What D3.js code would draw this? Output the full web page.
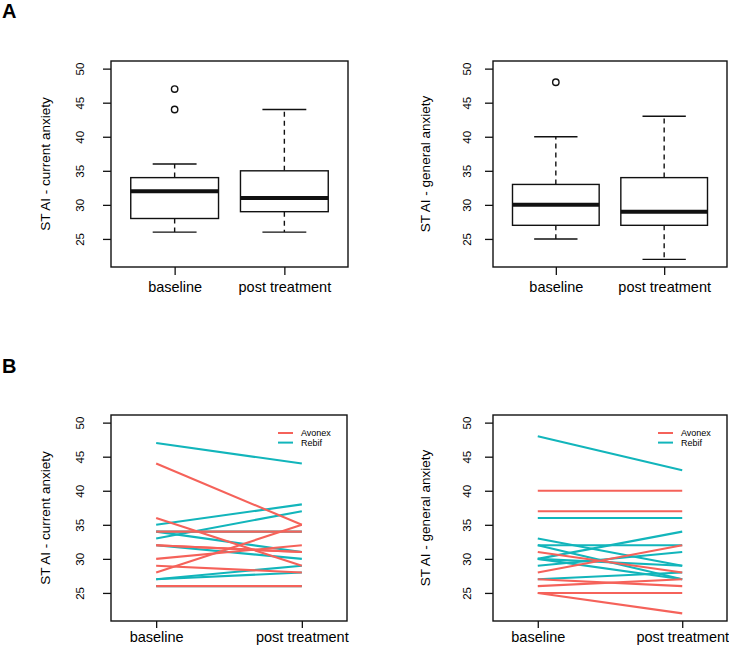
<!DOCTYPE html>
<html><head><meta charset="utf-8">
<script src="https://cdn.jsdelivr.net/npm/d3@7"></script>
<style>
html,body{margin:0;padding:0;background:#fff;}
svg{display:block;font-family:"Liberation Sans",Arial,sans-serif;}
</style></head>
<body><svg id="chart" width="729" height="646"></svg>
<script>
// ---- data ----
const timepoints = ["baseline", "post treatment"];
const groups = ["Avonex", "Rebif"];
const groupColors = ["#F5625A", "#12B5BB"];
const yTicks = [25, 30, 35, 40, 45, 50];
const yTitles = ["ST AI - current anxiety", "ST AI - general anxiety"];
const panelLabels = ["A", "B"];

const currentGroup    = ["Avonex","Avonex","Avonex","Avonex","Avonex","Avonex","Avonex","Avonex","Avonex",
                         "Rebif","Rebif","Rebif","Rebif","Rebif","Rebif","Rebif","Rebif","Rebif"];
const currentBaseline = [44, 36, 34, 32, 28, 30, 29, 26, 32, 47, 35, 33, 34, 34, 32, 27, 27, 26];
const currentPost     = [35, 29, 34, 31, 35, 32, 28, 26, 31, 44, 38, 37, 31, 34, 30, 29, 28, 26];

const generalGroup    = ["Rebif","Avonex","Avonex","Rebif","Rebif","Rebif","Rebif","Avonex","Rebif",
                         "Rebif","Avonex","Rebif","Avonex","Avonex","Avonex","Avonex","Rebif","Rebif"];
const generalBaseline = [48, 40, 37, 36, 33, 32, 32, 31, 30, 29, 28, 27, 27, 26, 25, 25, 30, 30];
const generalPost     = [43, 40, 37, 36, 29, 27, 32, 28, 34, 31, 32, 28, 26, 27, 25, 22, 29, 27];

// ---- layout ----
const svg = d3.select("#chart");
const yDomain = [20.88, 51.12];
const ink = "#111";

function fivenum(arr) {
  const x = arr.slice().sort((a, b) => a - b);
  const n = x.length;
  const n4 = Math.floor((n + 3) / 2) / 2;
  const d = [1, n4, (n + 1) / 2, n + 1 - n4, n];
  return d.map(v => 0.5 * (x[Math.floor(v) - 1] + x[Math.ceil(v) - 1]));
}
function boxStats(arr) {
  const f = fivenum(arr);
  const iqr = f[3] - f[1];
  const hiF = f[3] + 1.5 * iqr, loF = f[1] - 1.5 * iqr;
  const inside = arr.filter(v => v >= loF && v <= hiF);
  return {q1: f[1], med: f[2], q3: f[3], lo: d3.min(inside), hi: d3.max(inside),
          out: arr.filter(v => v < loF || v > hiF)};
}

function frame(p) {
  const g = svg.append("g");
  g.append("rect").attr("x", p.x0).attr("y", p.y0).attr("width", p.x1 - p.x0).attr("height", p.y1 - p.y0)
    .attr("fill", "none").attr("stroke", ink).attr("stroke-width", 1.4);
  const y = d3.scaleLinear().domain(yDomain).range([p.y1, p.y0]);
  const x = d3.scaleLinear().domain(p.xDom).range([p.x0, p.x1]);
  const ya = g.append("g").attr("transform", `translate(${p.x0},0)`)
    .call(d3.axisLeft(y).tickValues(yTicks).tickSize(8).tickFormat(d3.format("d")));
  ya.select(".domain").remove();
  ya.selectAll(".tick line").attr("stroke", ink).attr("stroke-width", 1.3);
  ya.selectAll(".tick text").attr("fill", "#000").attr("font-size", 11.5)
    .attr("font-family", "Liberation Sans, Arial, sans-serif")
    .attr("text-anchor", "middle").attr("dy", null).attr("x", null)
    .attr("transform", `translate(${p.tickLabX - p.x0},0) rotate(-90)`)
    .attr("dominant-baseline", "central");
  const xa = g.append("g").attr("transform", `translate(0,${p.y1})`)
    .call(d3.axisBottom(x).tickValues([1, 2]).tickSize(p.xTick)
      .tickFormat((d, i) => timepoints[i]));
  xa.select(".domain").remove();
  xa.selectAll(".tick line").attr("stroke", ink).attr("stroke-width", 1.3);
  xa.selectAll(".tick text").attr("fill", "#000").attr("font-size", 14.5)
    .attr("font-family", "Liberation Sans, Arial, sans-serif")
    .attr("dy", null).attr("y", p.xLabY - p.y1);
  g.append("text").attr("transform", `translate(${p.titleX},${(p.y0 + p.y1) / 2}) rotate(-90)`)
    .attr("text-anchor", "middle").attr("dominant-baseline", "central")
    .attr("font-size", 13.5).attr("fill", "#000").text(p.title);
  return {g, x, y};
}

function boxPanel(p, series) {
  const {g, x, y} = frame(p);
  const bw = 0.4, sw = 0.2;
  series.forEach((vals, i) => {
    const s = boxStats(vals), c = i + 1;
    const bg = g.append("g");
    bg.append("line").attr("x1", x(c)).attr("x2", x(c)).attr("y1", y(s.q3)).attr("y2", y(s.hi))
      .attr("stroke", ink).attr("stroke-width", 1.4).attr("stroke-dasharray", "5,4");
    bg.append("line").attr("x1", x(c)).attr("x2", x(c)).attr("y1", y(s.q1)).attr("y2", y(s.lo))
      .attr("stroke", ink).attr("stroke-width", 1.4).attr("stroke-dasharray", "5,4");
    [s.hi, s.lo].forEach(v => bg.append("line").attr("x1", x(c - sw)).attr("x2", x(c + sw))
      .attr("y1", y(v)).attr("y2", y(v)).attr("stroke", ink).attr("stroke-width", 1.4));
    bg.append("rect").attr("x", x(c - bw)).attr("width", x(c + bw) - x(c - bw))
      .attr("y", y(s.q3)).attr("height", y(s.q1) - y(s.q3))
      .attr("fill", "#fff").attr("stroke", ink).attr("stroke-width", 1.4);
    bg.append("line").attr("x1", x(c - bw)).attr("x2", x(c + bw)).attr("y1", y(s.med)).attr("y2", y(s.med))
      .attr("stroke", ink).attr("stroke-width", 4);
    bg.selectAll("circle.o").data(s.out).join("circle").attr("class", "o")
      .attr("cx", x(c)).attr("cy", d => y(d)).attr("r", 3.2)
      .attr("fill", "none").attr("stroke", ink).attr("stroke-width", 1.4);
  });
}

function linePanel(p, grp, base, post) {
  const {g, x, y} = frame(p);
  const color = d3.scaleOrdinal().domain(groups).range(groupColors);
  const line = d3.line().x(d => x(d[0])).y(d => y(d[1]));
  const rows = base.map((b, i) => ({g: grp[i], pts: [[1, b], [2, post[i]]]}))
    .sort((a, b) => groups.indexOf(b.g) - groups.indexOf(a.g));
  g.append("g").selectAll("path").data(rows).join("path")
    .attr("d", d => line(d.pts)).attr("fill", "none")
    .attr("stroke", d => color(d.g)).attr("stroke-width", 2.1);
  const lg = g.append("g");
  groups.forEach((gr, i) => {
    const ly = p.y0 + 18 + i * 9.6;
    lg.append("line").attr("x1", p.x1 - 69).attr("x2", p.x1 - 54).attr("y1", ly).attr("y2", ly)
      .attr("stroke", color(gr)).attr("stroke-width", 2);
    lg.append("text").attr("x", p.x1 - 46).attr("y", ly).attr("dominant-baseline", "central")
      .attr("font-size", 9).attr("fill", "#000").text(gr);
  });
}

const common = {xTick: 8};
boxPanel({...common, x0: 111, x1: 348, y0: 61, y1: 267, xDom: [0.42, 2.58], tickLabX: 80, titleX: 45,
          xLabY: 292, title: yTitles[0]}, [currentBaseline, currentPost]);
boxPanel({...common, x0: 493, x1: 727, y0: 61, y1: 267, xDom: [0.42, 2.58], tickLabX: 467, titleX: 425,
          xLabY: 292, title: yTitles[1]}, [generalBaseline, generalPost]);
linePanel({...common, x0: 111, x1: 347, y0: 415, y1: 621, xDom: [0.69, 2.31], tickLabX: 80, titleX: 45,
          xLabY: 642, xTick: 7, title: yTitles[0]}, currentGroup, currentBaseline, currentPost);
linePanel({...common, x0: 493, x1: 727, y0: 415, y1: 621, xDom: [0.69, 2.31], tickLabX: 467, titleX: 425,
          xLabY: 642, xTick: 7, title: yTitles[1]}, generalGroup, generalBaseline, generalPost);

svg.append("text").attr("x", 2).attr("y", 18).attr("font-size", 20).attr("font-weight", "bold")
  .attr("fill", "#000").text(panelLabels[0]);
svg.append("text").attr("x", 2).attr("y", 373).attr("font-size", 20).attr("font-weight", "bold")
  .attr("fill", "#000").text(panelLabels[1]);
</script></body></html>
